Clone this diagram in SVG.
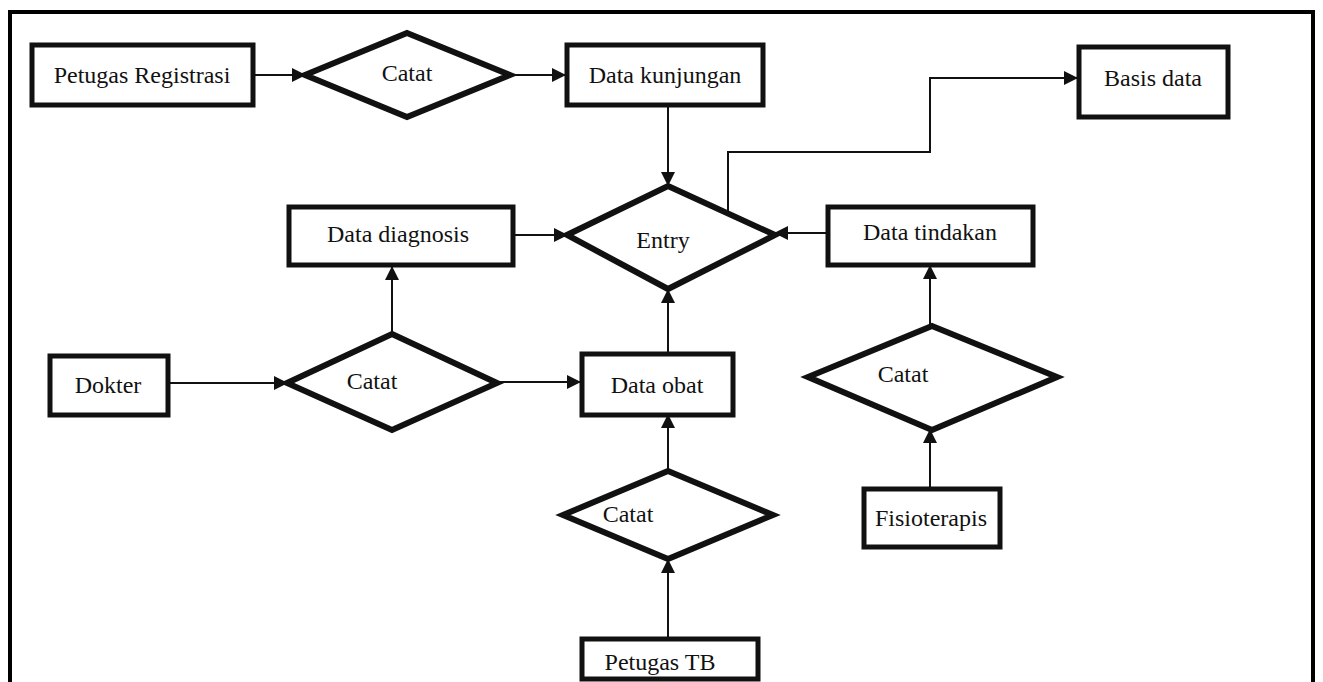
<svg xmlns="http://www.w3.org/2000/svg" width="1323" height="682" viewBox="0 0 1323 682">
<defs>
<style>
.box{fill:#fff;stroke:#111;stroke-width:5}
.dia{fill:#fff;stroke:#111;stroke-width:6;stroke-linejoin:miter}
.lbl{font-family:"Liberation Serif","Times New Roman","DejaVu Serif",serif;font-size:24px;fill:#111;text-anchor:middle;dominant-baseline:central}
.con{fill:none;stroke:#111;stroke-width:2}
.frame{fill:none;stroke:#000;stroke-width:4}
</style>
<marker id="arr" viewBox="0 0 14 14" refX="13" refY="7" markerWidth="14" markerHeight="14" markerUnits="userSpaceOnUse" orient="auto">
<path d="M0,0 L14,7 L0,14 Z" fill="#111"/>
</marker>
</defs>
<rect width="1323" height="682" fill="#fff"/>
<path class="frame" d="M10,682 V12 H1313 V682"/>

<g id="connectors">
<line class="con" x1="255" y1="75" x2="305" y2="75" marker-end="url(#arr)"/>
<line class="con" x1="510" y1="75" x2="565" y2="75" marker-end="url(#arr)"/>
<line class="con" x1="668" y1="106" x2="668" y2="185" marker-end="url(#arr)"/>
<polyline class="con" points="728,214 728,152 930,152 930,78 1077,78" marker-end="url(#arr)"/>
<line class="con" x1="513" y1="235" x2="567" y2="235" marker-end="url(#arr)"/>
<line class="con" x1="826" y1="233" x2="775" y2="233" marker-end="url(#arr)"/>
<line class="con" x1="168" y1="383" x2="287" y2="383" marker-end="url(#arr)"/>
<line class="con" x1="392" y1="333" x2="392" y2="267" marker-end="url(#arr)"/>
<line class="con" x1="497" y1="382" x2="580" y2="382" marker-end="url(#arr)"/>
<line class="con" x1="668" y1="352" x2="668" y2="290" marker-end="url(#arr)"/>
<line class="con" x1="668" y1="470" x2="668" y2="415" marker-end="url(#arr)"/>
<line class="con" x1="668" y1="637" x2="668" y2="560" marker-end="url(#arr)"/>
<line class="con" x1="930" y1="325" x2="930" y2="266" marker-end="url(#arr)"/>
<line class="con" x1="930" y1="487" x2="930" y2="430" marker-end="url(#arr)"/>
</g>

<g id="petugas-registrasi"><rect class="box" x="32" y="45" width="221" height="60"/><text class="lbl" x="142" y="75">Petugas Registrasi</text></g>
<g id="catat-1"><polygon class="dia" points="407,33 510,75 407,117 305,75"/><text class="lbl" x="407" y="73">Catat</text></g>
<g id="data-kunjungan"><rect class="box" x="567" y="45" width="196" height="60"/><text class="lbl" x="665" y="75">Data kunjungan</text></g>
<g id="basis-data"><rect class="box" x="1079" y="47" width="149" height="70"/><text class="lbl" x="1153" y="78">Basis data</text></g>
<g id="data-diagnosis"><rect class="box" x="289" y="207" width="224" height="58"/><text class="lbl" x="398" y="234">Data diagnosis</text></g>
<g id="entry"><polygon class="dia" points="668,186 775,235 668,289 567,235"/><text class="lbl" x="663" y="240">Entry</text></g>
<g id="data-tindakan"><rect class="box" x="828" y="207" width="205" height="58"/><text class="lbl" x="930" y="232">Data tindakan</text></g>
<g id="dokter"><rect class="box" x="50" y="356" width="118" height="59"/><text class="lbl" x="108" y="385">Dokter</text></g>
<g id="catat-2"><polygon class="dia" points="392,334 497,383 392,430 287,383"/><text class="lbl" x="372" y="381">Catat</text></g>
<g id="data-obat"><rect class="box" x="582" y="354" width="151" height="61"/><text class="lbl" x="657" y="385">Data obat</text></g>
<g id="catat-3"><polygon class="dia" points="668,471 773,515 668,559 563,515"/><text class="lbl" x="628" y="514">Catat</text></g>
<g id="petugas-tb"><rect class="box" x="582" y="639" width="176" height="40"/><text class="lbl" x="660" y="662">Petugas TB</text></g>
<g id="catat-4"><polygon class="dia" points="932,326 1057,377 932,430 808,377"/><text class="lbl" x="903" y="374">Catat</text></g>
<g id="fisioterapis"><rect class="box" x="864" y="489" width="136" height="58"/><text class="lbl" x="931" y="518">Fisioterapis</text></g>
</svg>
